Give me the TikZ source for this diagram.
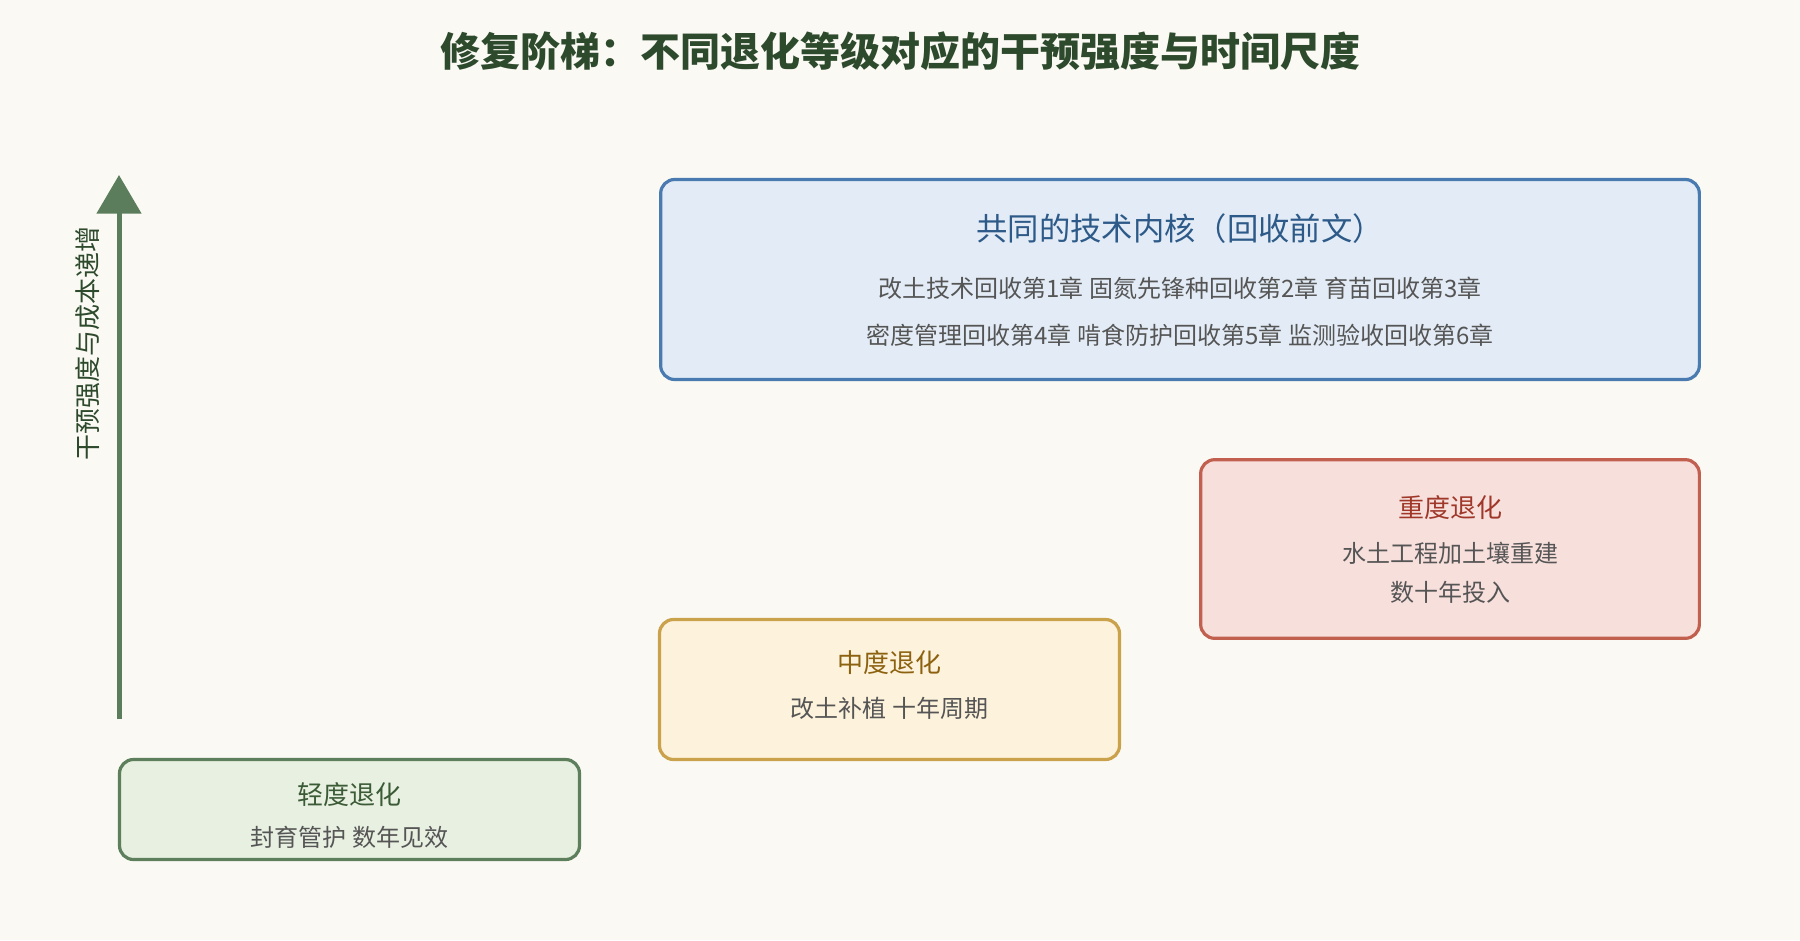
\documentclass[tikz,border=0pt]{standalone}
\usepackage{fontspec}
\setmainfont{Noto Sans CJK SC}
\usetikzlibrary{arrows.meta}
\definecolor{paper}{HTML}{FAF9F4}
\definecolor{titlegreen}{HTML}{2E4A2C}
\definecolor{bodygray}{HTML}{555555}
\definecolor{axisgreen}{HTML}{5B7D5B}
\definecolor{corefill}{HTML}{E3ECF6}
\definecolor{coreline}{HTML}{4A7BB0}
\definecolor{coretext}{HTML}{2D5A88}
\definecolor{heavyfill}{HTML}{F7DFDC}
\definecolor{heavyline}{HTML}{C2604F}
\definecolor{heavytext}{HTML}{A0382A}
\definecolor{midfill}{HTML}{FDF2DC}
\definecolor{midline}{HTML}{CBA24C}
\definecolor{midtext}{HTML}{8C6210}
\definecolor{lightfill}{HTML}{E8F0E1}
\definecolor{lightline}{HTML}{5E7F5C}
\definecolor{lighttext}{HTML}{3B5A36}
\begin{document}
\begin{tikzpicture}[x=0.75pt,y=-0.75pt,
    stage/.style={draw, rounded corners=10.5pt, line width=2.4pt, inner sep=0pt},
    head/.style={font=\fontsize{19.5}{23}\selectfont},
    body/.style={font=\fontsize{18}{22}\selectfont, text=bodygray}]
  \fill[paper] (0,0) rectangle (1800,940);
  \useasboundingbox (0,0) rectangle (1800,940);
  \node[font=\fontsize{30}{36}\selectfont\bfseries, text=titlegreen] (title) at (900,51)
    {修复阶梯：不同退化等级对应的干预强度与时间尺度};
  % axis
  \coordinate (axisbot) at (119,719);
  \coordinate (axistop) at (119,175);
  \draw[axisgreen, line width=3.75pt, -{Triangle[width=33pt,length=29pt]}] (axisbot) -- (axistop);
  \node[head, text=titlegreen, rotate=90] (axislabel) at (88,343) {干预强度与成本递增};
  % boxes
  \node[stage, draw=coreline, fill=corefill, minimum width=779pt, minimum height=150pt] (core) at (1180,279.5) {};
  \node[stage, draw=heavyline, fill=heavyfill, minimum width=374pt, minimum height=134pt] (heavy) at (1450,549) {};
  \node[stage, draw=midline, fill=midfill, minimum width=345pt, minimum height=105pt] (mid) at (889.5,689.5) {};
  \node[stage, draw=lightline, fill=lightfill, minimum width=345pt, minimum height=75pt] (light) at (349.5,809.5) {};
  % texts
  \node[font=\fontsize{23.5}{28}\selectfont, text=coretext] (coretitle) at (1180,229) {共同的技术内核（回收前文）};
  \node[body] (coreone) at (1180,288) {改土技术回收第1章 固氮先锋种回收第2章 育苗回收第3章};
  \node[body] (coretwo) at (1180,335) {密度管理回收第4章 啃食防护回收第5章 监测验收回收第6章};
  \node[head, text=heavytext] (heavytitle) at (1450,508) {重度退化};
  \node[body] (heavyone) at (1450,553) {水土工程加土壤重建};
  \node[body] (heavytwo) at (1450,592) {数十年投入};
  \node[head, text=midtext] (midtitle) at (889.5,663) {中度退化};
  \node[body] (midone) at (889.5,708) {改土补植 十年周期};
  \node[head, text=lighttext] (lighttitle) at (349.5,795) {轻度退化};
  \node[body] (lightone) at (349.5,837) {封育管护 数年见效};
\end{tikzpicture}
\end{document}
